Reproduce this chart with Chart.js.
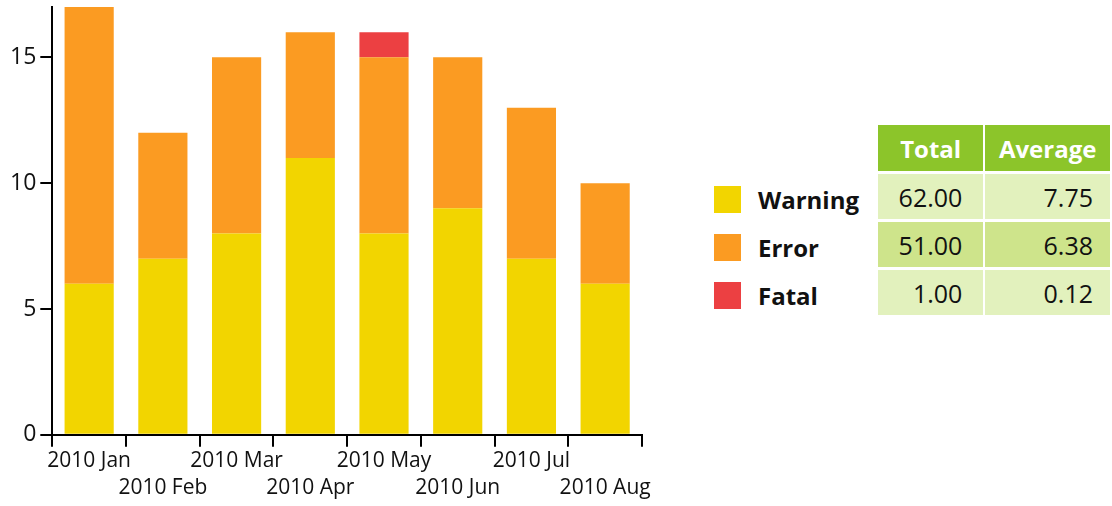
<!DOCTYPE html>
<html>
<head>
<meta charset="utf-8">
<script src="https://cdn.jsdelivr.net/npm/chart.js@4"></script>
<style>
  html, body { margin: 0; padding: 0; background: #fff; }
  body { width: 1112px; height: 506px; position: relative; overflow: hidden; font-family: "Open Sans", sans-serif; }
  #chartBox { position: absolute; left: 0; top: 0; width: 660px; height: 506px; }
  #legend { position: absolute; left: 714px; top: 175px; }
  .item { height: 48px; display: flex; align-items: center; font-weight: bold; font-size: 24px; color: #111; }
  .sw { width: 27px; height: 27px; margin-right: 17px; }
  #stats { position: absolute; left: 876px; top: 122px; border-collapse: separate; border-spacing: 2px 3px; }
  #stats th { background: #8cc52a; color: #fff; font-weight: bold; font-size: 24px; height: 46px; padding: 0 8px; }
  #stats td { font-size: 25px; height: 45px; text-align: right; color: #111; }
  #stats td.tot { padding: 0 21px 0 0; }
  #stats td.avg { padding: 0 17px 0 0; }
  #stats tr.odd td { background: #e2f1bd; }
  #stats tr.even td { background: #cee48b; }
</style>
</head>
<body>
<div id="chartBox"><canvas id="c" width="660" height="506"></canvas></div>
<div id="legend"></div>
<table id="stats"></table>
<script>
const months = ["2010 Jan", "2010 Feb", "2010 Mar", "2010 Apr", "2010 May", "2010 Jun", "2010 Jul", "2010 Aug"];
const warning = [6, 7, 8, 11, 8, 9, 7, 6];
const error = [11, 5, 7, 5, 7, 6, 6, 4];
const fatal = [0, 0, 0, 0, 1, 0, 0, 0];
const seriesNames = ["Warning", "Error", "Fatal"];
const seriesColors = ["#f2d500", "#fb9b22", "#ec4042"];
const totals = ["62.00", "51.00", "1.00"];
const averages = ["7.75", "6.38", "0.12"];

// alternate the month labels on two rows
const labels = months.map((m, i) => (i % 2 === 0 ? [m, ""] : ["", m]));

new Chart(document.getElementById("c"), {
  type: "bar",
  data: {
    labels: labels,
    datasets: [
      { label: "Warning", data: warning, backgroundColor: seriesColors[0] },
      { label: "Error", data: error, backgroundColor: seriesColors[1] },
      { label: "Fatal", data: fatal, backgroundColor: seriesColors[2] },
    ],
  },
  options: {
    responsive: false,
    animation: false,
    layout: { padding: { top: 7, right: 18, left: 6, bottom: 3 } },
    plugins: { legend: { display: false }, tooltip: { enabled: false } },
    datasets: { bar: { categoryPercentage: 0.667, barPercentage: 1, borderWidth: 0 } },
    scales: {
      x: {
        stacked: true,
        offset: true,
        border: { color: "#000", width: 2 },
        grid: { offset: true, drawOnChartArea: false, color: "#000", lineWidth: 2, tickLength: 12 },
        ticks: {
          color: "#111",
          font: { family: "Open Sans", size: 21, lineHeight: 1.29 },
          maxRotation: 0,
          autoSkip: false,
          padding: 1,
        },
      },
      y: {
        stacked: true,
        min: 0,
        max: 17,
        border: { color: "#000", width: 2 },
        grid: { drawOnChartArea: false, color: "#000", lineWidth: 2, tickLength: 12 },
        ticks: { stepSize: 5, color: "#111", font: { family: "Open Sans", size: 23 }, padding: 4 },
        afterBuildTicks: (axis) => {
          axis.ticks = axis.ticks.filter((t) => t.value % 5 === 0);
        },
        // top label is 15, not at the edge, so no need to reserve room above
        afterFit: (axis) => {
          axis.paddingTop = 0;
        },
      },
    },
  },
});

const legend = document.getElementById("legend");
seriesNames.forEach((name, i) => {
  const row = document.createElement("div");
  row.className = "item";
  row.innerHTML = `<span class="sw" style="background:${seriesColors[i]}"></span>${name}`;
  legend.appendChild(row);
});

const stats = document.getElementById("stats");
let html = `<tr><th style="width:90px">Total</th><th style="width:109px">Average</th></tr>`;
seriesNames.forEach((name, i) => {
  html += `<tr class="${i % 2 === 0 ? "odd" : "even"}"><td class="tot">${totals[i]}</td><td class="avg">${averages[i]}</td></tr>`;
});
stats.innerHTML = html;
</script>
</body>
</html>
